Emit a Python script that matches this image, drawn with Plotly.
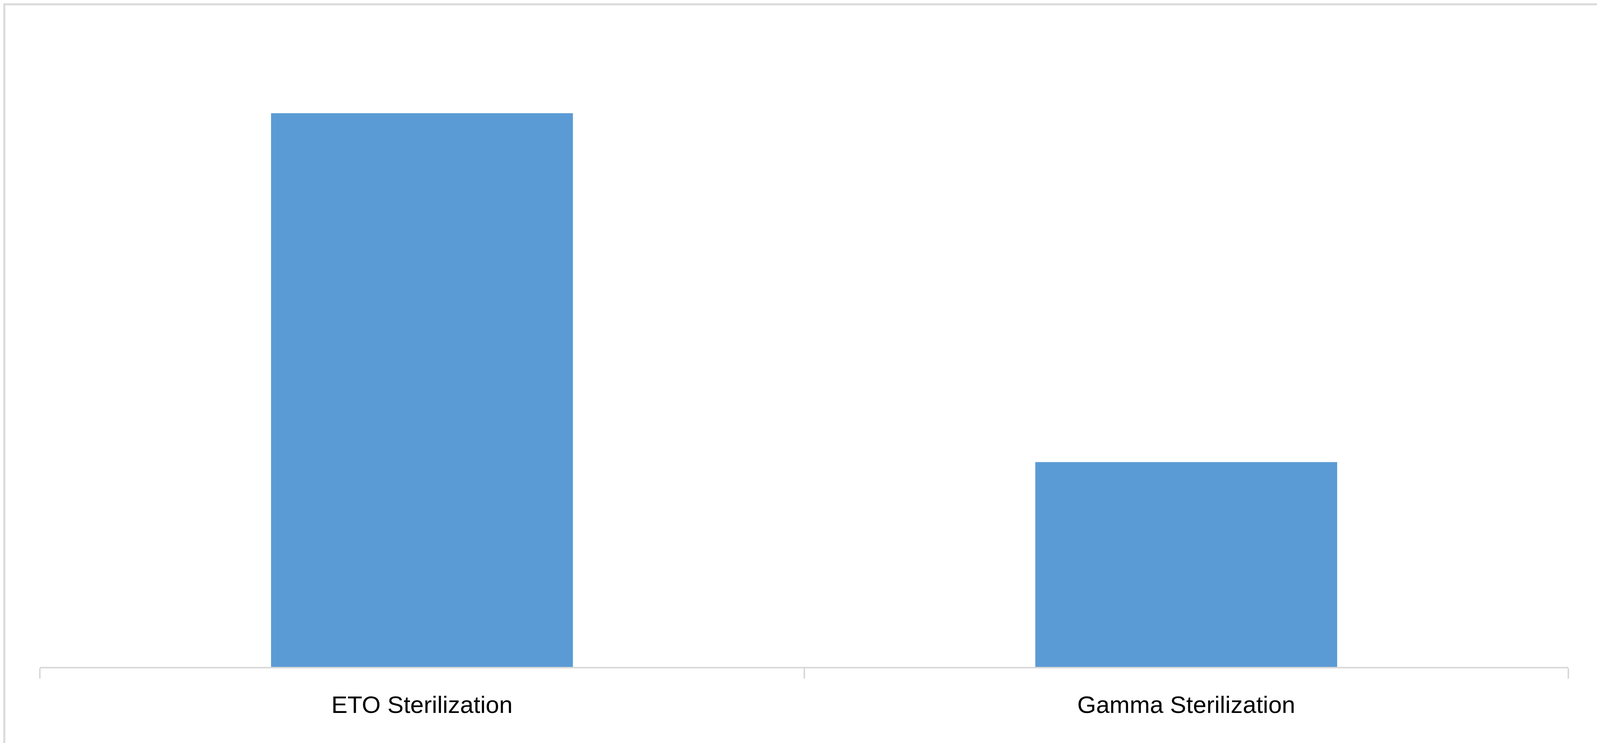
import plotly.graph_objects as go

categories = ["ETO Sterilization", "Gamma Sterilization"]
values = [73, 27]

W, H = 4101, 1903
ml, mr, mt, mb = 94, 94, 146, 203
pw, ph = W - ml - mr, H - mt - mb

fig = go.Figure(go.Bar(x=categories, y=values, marker_color="#5b9bd5", marker_line_width=0))
fig.update_layout(
    width=W, height=H, margin=dict(l=ml, r=mr, t=mt, b=mb),
    paper_bgcolor="white", plot_bgcolor="white", bargap=0.605, showlegend=False,
    font=dict(family="Liberation Sans, Arial", color="#000000", size=62),
)
fig.update_xaxes(type="category", tickson="boundaries", ticks="outside", ticklen=26,
                 tickcolor="#d9d9d9", tickwidth=4, showline=True, linecolor="#d9d9d9",
                 linewidth=4, showgrid=False, tickfont=dict(size=62), ticklabelstandoff=40)
fig.update_yaxes(range=[0, 80], visible=False)
x0 = (3 - ml) / pw
x1 = (W - 3 - ml) / pw
y1 = (H - mb - 3) / ph + 0.0
y0 = -(mb - 3) / ph
fig.add_shape(type="rect", xref="paper", yref="paper", x0=x0, x1=x1,
              y0=y0, y1=(ph + mt - 3) / ph, line=dict(color="#d9d9d9", width=5))
fig.write_html("out.html")
